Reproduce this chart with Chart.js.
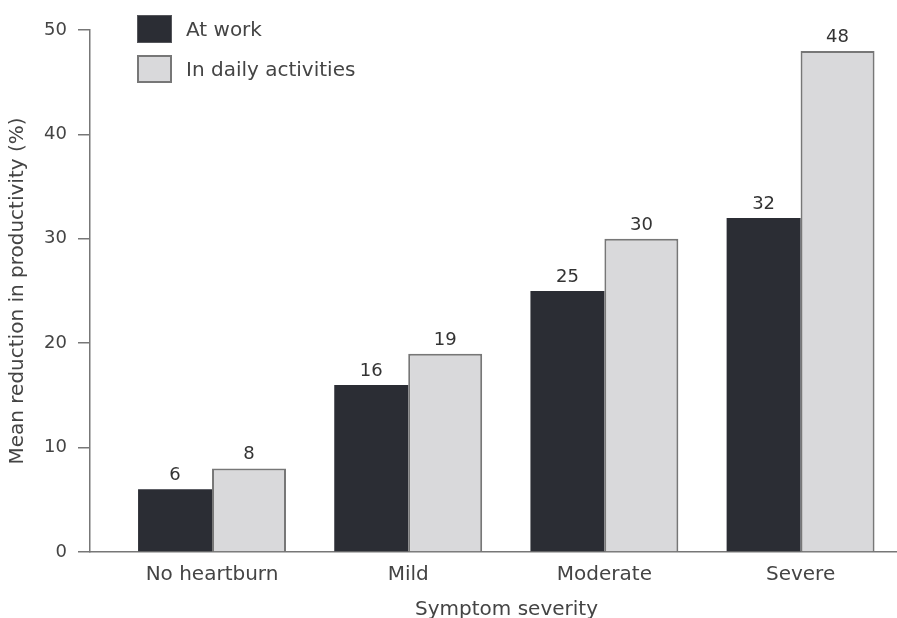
<!DOCTYPE html>
<html><head><meta charset="utf-8">
<script src="https://cdn.jsdelivr.net/npm/chart.js@4/dist/chart.umd.min.js"></script>
<style>
html,body{margin:0;padding:0;background:#fff;overflow:hidden;}
#wrap{position:relative;width:897px;height:618px;overflow:hidden;background:#fff;}
#c{position:absolute;left:0;top:0;}
#legend{position:absolute;left:137px;top:15px;font-family:"DejaVu Sans";font-size:20px;color:#444;}
.item{display:flex;align-items:center;height:28px;margin-bottom:12px;}
.box{width:35px;height:28px;box-sizing:border-box;margin-right:14px;}
</style></head>
<body><div id="wrap"><canvas id="c" width="923" height="630"></canvas><div id="legend"></div></div>
<script>
const categories = ['No heartburn', 'Mild', 'Moderate', 'Severe'];
const atWork = [6, 16, 25, 32];
const dailyActivities = [8, 19, 30, 48];
const seriesNames = ['At work', 'In daily activities'];
const yMin = 0, yMax = 50, yStep = 10;
const xTitle = 'Symptom severity';
const yTitle = 'Mean reduction in productivity (%)';

const FONT = 'DejaVu Sans';
const TEXT = '#444';
const AXIS = '#777';

const valueLabels = {
  id: 'valueLabels',
  afterDatasetsDraw(chart) {
    const ctx = chart.ctx;
    ctx.save();
    ctx.font = '18px "' + FONT + '"';
    ctx.fillStyle = '#333';
    ctx.textAlign = 'center';
    ctx.textBaseline = 'alphabetic';
    chart.data.datasets.forEach((ds, di) => {
      chart.getDatasetMeta(di).data.forEach((el, i) => {
        ctx.fillText(String(ds.data[i]), el.x, el.y - 9);
      });
    });
    ctx.restore();
  }
};

const chart = new Chart(document.getElementById('c'), {
  type: 'bar',
  data: {
    labels: categories,
    datasets: [
      { label: seriesNames[0], data: atWork, backgroundColor: '#2b2d34', borderColor: '#45464c', borderWidth: 0 },
      { label: seriesNames[1], data: dailyActivities, backgroundColor: '#d9d9db', borderColor: AXIS, borderWidth: 2 }
    ]
  },
  options: {
    responsive: false,
    animation: false,
    devicePixelRatio: 1,
    layout: { padding: { top: 30, right: 0, bottom: 8, left: 0 } },
    datasets: { bar: { categoryPercentage: 0.754, barPercentage: 1.0 } },
    plugins: { legend: { display: false }, tooltip: { enabled: false } },
    scales: {
      x: {
        type: 'category',
        offset: true,
        grid: { display: false, drawTicks: false },
        border: { display: true, color: AXIS, width: 1.5 },
        ticks: { font: { family: FONT, size: 20 }, color: TEXT, padding: 11, maxRotation: 0, autoSkip: false },
        title: { display: true, text: xTitle, font: { family: FONT, size: 20 }, color: TEXT, padding: { top: 0, bottom: 0 } },
        afterBuildTicks(s) { s._startValue = -0.622; s._valueRange = 4.246; },
        afterFit(s) { s.height = 70; }
      },
      y: {
        min: yMin, max: yMax,
        ticks: { stepSize: yStep, font: { family: FONT, size: 18 }, color: TEXT, padding: 11 },
        grid: { drawOnChartArea: false, drawTicks: true, tickLength: 12, color: AXIS, lineWidth: 1.5 },
        border: { display: true, color: AXIS, width: 1.5 },
        title: { display: true, text: yTitle, font: { family: FONT, size: 20 }, color: TEXT, padding: { top: 6, bottom: 0 } },
        afterFit(s) { s.width = 90; }
      }
    }
  },
  plugins: [valueLabels]
});

const legendEl = document.getElementById('legend');
chart.data.datasets.forEach(ds => {
  const item = document.createElement('div');
  item.className = 'item';
  const box = document.createElement('span');
  box.className = 'box';
  box.style.background = ds.backgroundColor;
  box.style.border = (ds.borderWidth ? ds.borderWidth : 1) + 'px solid ' + (ds.borderWidth ? ds.borderColor : '#55565b');
  const txt = document.createElement('span');
  txt.textContent = ds.label;
  item.appendChild(box);
  item.appendChild(txt);
  legendEl.appendChild(item);
});
</script>
</body></html>
